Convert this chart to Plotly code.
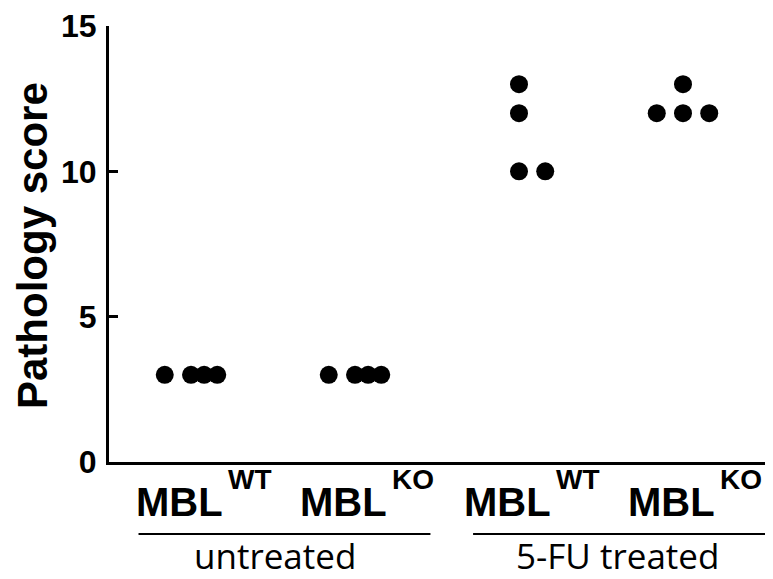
import plotly.graph_objects as go

# ---- data ----
group_positions = [1, 2, 3, 4]
genotypes = ["WT", "KO", "WT", "KO"]
treatments = ["untreated", "5-FU treated"]
scores = [
    [3, 3, 3, 3],        # untreated MBL WT
    [3, 3, 3, 3],        # untreated MBL KO
    [13, 12, 10, 10],    # 5-FU MBL WT
    [13, 12, 12, 12],    # 5-FU MBL KO
]
# horizontal spread of dots within each group
spread = [
    [-0.16, 0.0, 0.08, 0.16],
    [-0.16, 0.0, 0.08, 0.16],
    [0.0, 0.0, 0.0, 0.16],
    [0.0, -0.16, 0.0, 0.16],
]
y_ticks = [0, 5, 10, 15]

fig = go.Figure()
for pos, vals, offs in zip(group_positions, scores, spread):
    fig.add_trace(go.Scatter(
        x=[pos + o for o in offs], y=vals, mode="markers",
        marker=dict(size=18, color="black"),
        showlegend=False, hoverinfo="y"))

AX = dict(family="Arial, Liberation Sans, sans-serif", color="black", weight="bold")

fig.update_layout(
    width=773, height=579,
    margin=dict(l=109, r=8, t=20, b=117),
    paper_bgcolor="white", plot_bgcolor="white",
    xaxis=dict(range=[0.5, 4.5], showline=True, linecolor="black", linewidth=3,
               showticklabels=False, ticks="", showgrid=False, zeroline=False),
    yaxis=dict(range=[0, 15], tickvals=y_ticks, showline=True, linecolor="black",
               linewidth=3, ticks="inside", ticklen=9, tickwidth=3, tickcolor="black",
               tickfont=dict(size=32, **AX), ticklabelstandoff=3,
               showgrid=False, zeroline=False),
)

ann = []
# y axis title
ann.append(dict(text="Pathology score", xref="paper", yref="paper", x=0, y=0.5,
                xanchor="center", yanchor="middle", xshift=-77, yshift=-2, textangle=-90,
                showarrow=False, font=dict(size=42, **AX)))
# category labels
for pos, g in zip(group_positions, genotypes):
    ann.append(dict(text="MBL", xref="x", yref="paper", x=pos, y=0,
                    xanchor="right", yanchor="middle", xshift=34, yshift=-40,
                    showarrow=False, font=dict(size=40, **AX)))
    ann.append(dict(text=g, xref="x", yref="paper", x=pos, y=0,
                    xanchor="left", yanchor="middle", xshift=35, yshift=-17,
                    showarrow=False, font=dict(size=28, **AX)))
# treatment group labels and bars
grp_text_x = [1.51, 3.60]
grp_bar = [(0.68, 2.46), (2.72, 4.5)]
for t, tx, (b0, b1) in zip(treatments, grp_text_x, grp_bar):
    ann.append(dict(text=t, xref="x", yref="paper", x=tx, y=0,
                    xanchor="center", yanchor="middle", yshift=-93, showarrow=False,
                    borderpad=0,
                    font=dict(size=35, family="Open Sans, sans-serif", color="black")))
    fig.add_shape(type="line", xref="x", yref="paper", x0=b0, x1=b1,
                  y0=-73 / 442, y1=-73 / 442, line=dict(color="black", width=2))

fig.update_layout(annotations=ann)
fig.write_html("out.html")
